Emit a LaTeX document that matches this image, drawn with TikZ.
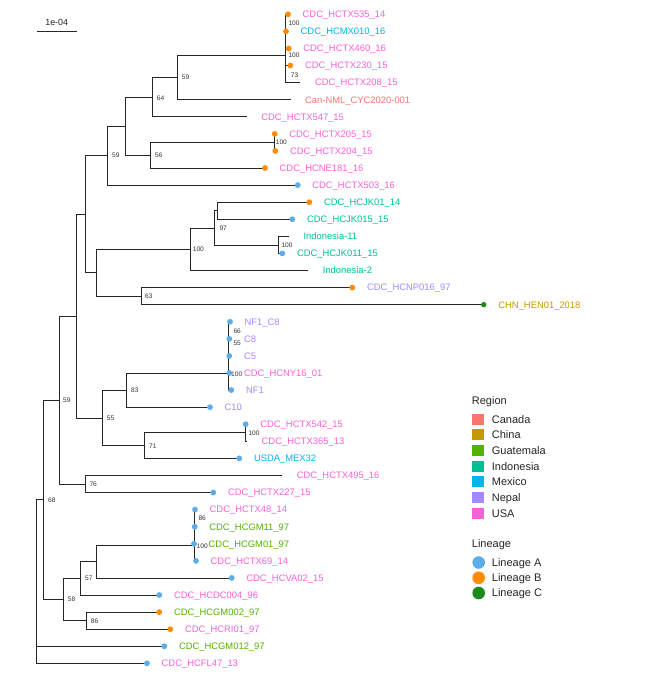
\documentclass[tikz,border=0pt]{standalone}
\usepackage{fontspec}
\setmainfont{Liberation Sans}
\definecolor{cCanada}{HTML}{F8766D}
\definecolor{cChina}{HTML}{C49A00}
\definecolor{cGuatemala}{HTML}{53B400}
\definecolor{cIndonesia}{HTML}{00C094}
\definecolor{cMexico}{HTML}{00B6EB}
\definecolor{cNepal}{HTML}{A58AFF}
\definecolor{cUSA}{HTML}{FB61D7}
\definecolor{linA}{HTML}{5DAEE8}
\definecolor{linB}{HTML}{FF8C00}
\definecolor{linC}{HTML}{1A8A1A}
\begin{document}
\begin{tikzpicture}[x=1pt,y=-1pt,
  edge/.style={draw=black!85, line width=0.6pt},
  tiplab/.style={anchor=west, inner sep=0pt, font=\fontsize{9.4}{10}\selectfont, text height=6.7pt, text depth=0pt},
  boot/.style={anchor=west, inner sep=0pt, font=\fontsize{6.6}{7}\selectfont, text=black!80, text height=4.7pt, text depth=0pt},
  tipdot/.style={circle, inner sep=0pt, minimum size=5.8pt},
  legtext/.style={anchor=west, inner sep=0pt, font=\fontsize{11}{12}\selectfont, text=black!85, text height=7.9pt, text depth=0pt},
  legkey/.style={inner sep=0pt, minimum width=12pt, minimum height=11pt},
  legdot/.style={circle, inner sep=0pt, minimum size=12.6pt}
]
\fill[white] (0,0) rectangle (669,680);
\useasboundingbox (0,0) rectangle (669,680);

% ---------- tips ----------
\foreach \i/\tx/\nm/\rg in {
 0/288/CDC\_HCTX535\_14/USA,
 1/286/CDC\_HCMX010\_16/Mexico,
 2/288.7/CDC\_HCTX460\_16/USA,
 3/290.3/CDC\_HCTX230\_15/USA,
 4/300.3/CDC\_HCTX208\_15/USA,
 5/290.5/Can-NML\_CYC2020-001/Canada,
 6/246.7/CDC\_HCTX547\_15/USA,
 7/274.7/CDC\_HCTX205\_15/USA,
 8/275.3/CDC\_HCTX204\_15/USA,
 9/265/CDC\_HCNE181\_16/USA,
 10/297.7/CDC\_HCTX503\_16/USA,
 11/309.3/CDC\_HCJK01\_14/Indonesia,
 12/292.3/CDC\_HCJK015\_15/Indonesia,
 13/288.8/Indonesia-11/Indonesia,
 14/282.3/CDC\_HCJK011\_15/Indonesia,
 15/308.2/Indonesia-2/Indonesia,
 16/352.3/CDC\_HCNP016\_97/Nepal,
 17/483.7/CHN\_HEN01\_2018/China,
 18/230/NF1\_C8/Nepal,
 19/229.3/C8/Nepal,
 20/229.3/C5/Nepal,
 21/229.3/CDC\_HCNY16\_01/USA,
 22/231.3/NF1/Nepal,
 23/210/C10/Nepal,
 24/245.7/CDC\_HCTX542\_15/USA,
 25/247/CDC\_HCTX365\_13/USA,
 26/239.3/USDA\_MEX32/Mexico,
 27/282.2/CDC\_HCTX495\_16/USA,
 28/213.3/CDC\_HCTX227\_15/USA,
 29/195/CDC\_HCTX48\_14/USA,
 30/194.7/CDC\_HCGM11\_97/Guatemala,
 31/194/CDC\_HCGM01\_97/Guatemala,
 32/196/CDC\_HCTX69\_14/USA,
 33/231.7/CDC\_HCVA02\_15/USA,
 34/159.3/CDC\_HCDC004\_96/USA,
 35/159.3/CDC\_HCGM002\_97/Guatemala,
 36/170.3/CDC\_HCRI01\_97/USA,
 37/164.3/CDC\_HCGM012\_97/Guatemala,
 38/147/CDC\_HCFL47\_13/USA}{
  \coordinate (t\i) at (\tx,{14.3+17.08*\i});
  \node[tiplab, text=c\rg] (l\i) at ([xshift=14.5pt]t\i) {\nm};
}

% ---------- internal nodes ----------
\coordinate (c01) at (285.7,22.84);
\coordinate (c012) at (285.7,35.65);
\coordinate (c34) at (285.7,74.08);
\coordinate (c1) at (285.7,54.87);
\coordinate (n59t) at (177.3,77.29);
\coordinate (n64) at (152.3,97.03);
\coordinate (nE) at (274.3,142.4);
\coordinate (n56) at (150.7,155.21);
\coordinate (nD) at (125.3,126.12);
\coordinate (n59a) at (107.3,155.61);
\coordinate (nF) at (217.7,210.72);
\coordinate (nG) at (278.3,244.88);
\coordinate (n97) at (214.3,227.8);
\coordinate (n100i) at (190.3,249.15);
\coordinate (n63) at (141.3,296.12);
\coordinate (nC) at (96,272.64);
\coordinate (nB) at (85.7,214.1);
\coordinate (nH) at (228.7,372.98);
\coordinate (n83) at (126.7,390.06);
\coordinate (nI) at (245.7,432.76);
\coordinate (n71) at (144.3,445.57);
\coordinate (n55) at (102.7,417.8);
\coordinate (nA) at (76.7,315.95);
\coordinate (n76) at (85.7,484);
\coordinate (n59b) at (59.3,399.98);
\coordinate (nK) at (194,545.2);
\coordinate (nJ) at (96.7,561.57);
\coordinate (n57) at (80.7,578.3);
\coordinate (n86) at (86.7,620.64);
\coordinate (n58) at (63.3,599.5);
\coordinate (n68) at (43.3,499.7);
\coordinate (nR) at (36.3,499.7);

% ---------- edges ----------
\draw[edge] (c01) |- (t0) (c01) |- (t1);
\draw[edge] (c012) |- (c01) (c012) |- (t2);
\draw[edge] (c34) |- (t3) (c34) |- (t4);
\draw[edge] (c1) |- (c012) (c1) |- (c34);
\draw[edge] (n59t) |- (c1) (n59t) |- (t5);
\draw[edge] (n64) |- (n59t) (n64) |- (t6);
\draw[edge] (nE) |- (t7) (nE) |- (t8);
\draw[edge] (n56) |- (nE) (n56) |- (t9);
\draw[edge] (nD) |- (n64) (nD) |- (n56);
\draw[edge] (n59a) |- (nD) (n59a) |- (t10);
\draw[edge] (nF) |- (t11) (nF) |- (t12);
\draw[edge] (nG) |- (t13) (nG) |- (t14);
\draw[edge] (n97) |- (nF) (n97) |- (nG);
\draw[edge] (n100i) |- (n97) (n100i) |- (t15);
\draw[edge] (n63) |- (t16) (n63) |- (t17);
\draw[edge] (nC) |- (n100i) (nC) |- (n63);
\draw[edge] (nB) |- (n59a) (nB) |- (nC);
\draw[edge] (nH) |- (t18) (nH) |- (t19) (nH) |- (t20) (nH) |- (t21) (nH) |- (t22);
\draw[edge] (n83) |- (nH) (n83) |- (t23);
\draw[edge] (nI) |- (t24) (nI) |- (t25);
\draw[edge] (n71) |- (nI) (n71) |- (t26);
\draw[edge] (n55) |- (n83) (n55) |- (n71);
\draw[edge] (nA) |- (nB) (nA) |- (n55);
\draw[edge] (n76) |- (t27) (n76) |- (t28);
\draw[edge] (n59b) |- (nA) (n59b) |- (n76);
\draw[edge] (nK) |- (t29) (nK) |- (t30) (nK) |- (t31) (nK) |- (t32);
\draw[edge] (nJ) |- (nK) (nJ) |- (t33);
\draw[edge] (n57) |- (nJ) (n57) |- (t34);
\draw[edge] (n86) |- (t35) (n86) |- (t36);
\draw[edge] (n58) |- (n57) (n58) |- (n86);
\draw[edge] (n68) |- (n59b) (n68) |- (n58);
\draw[edge] (nR) |- (n68) (nR) |- (t37) (nR) |- (t38);

% ---------- tip points ----------
\foreach \i in {0,1,2,3,7,8,9,11,16,35,36}{\node[tipdot, fill=linB] at (t\i) {};}
\foreach \i in {10,12,14,18,19,20,21,22,23,24,26,28,29,30,31,32,33,34,37,38}{\node[tipdot, fill=linA] at (t\i) {};}
\node[tipdot, fill=linC, minimum size=5.4pt] (d17) at (t17) {};

% ---------- bootstrap labels ----------
\node[boot] (b1) at (288.3,23.3) {100};
\node[boot] (b2) at (288.3,55) {100};
\node[boot] (b3) at (290.7,75) {73};
\node[boot] (b4) at (181.7,77.3) {59};
\node[boot] (b5) at (156.7,97.7) {64};
\node[boot] (b6) at (275.7,142.3) {100};
\node[boot] (b7) at (155,155.3) {56};
\node[boot] (b8) at (112,155.3) {59};
\node[boot] (b9) at (219.3,228.3) {97};
\node[boot] (b10) at (192.7,249.3) {100};
\node[boot] (b11) at (281.3,245.3) {100};
\node[boot] (b12) at (145,296.3) {63};
\node[boot] (b13) at (233.3,330.7) {66};
\node[boot] (b14) at (233.3,343) {55};
\node[boot] (b15) at (231,374) {100};
\node[boot] (b16) at (131,390.3) {83};
\node[boot] (b17) at (106.7,418) {55};
\node[boot] (b18) at (149,445.7) {71};
\node[boot] (b19) at (248.3,432.7) {100};
\node[boot] (b20) at (63,400) {59};
\node[boot] (b21) at (89.3,483.7) {76};
\node[boot] (b22) at (48,500) {68};
\node[boot] (b23) at (198.3,518.3) {86};
\node[boot] (b24) at (196.5,546.3) {100};
\node[boot] (b25) at (85,578.3) {57};
\node[boot] (b26) at (67.7,599.3) {58};
\node[boot] (b27) at (90.7,621) {86};

% ---------- scale bar ----------
\coordinate (sb1) at (36.7,31.7);
\coordinate (sb2) at (77.3,31.7);
\draw[edge] (sb1) -- (sb2);
\node[inner sep=0pt, font=\fontsize{8.9}{9}\selectfont, text=black!85, text height=6.4pt, text depth=0pt] (sbl) at (56.7,22) {1e-04};

% ---------- legend ----------
\node[legtext] (regT) at (471.7,400.7) {Region};
\foreach \j/\rg [count=\k from 0] in {Canada/Canada, China/China, Guatemala/Guatemala, Indonesia/Indonesia, Mexico/Mexico, Nepal/Nepal, USA/USA}{
  \node[legkey, fill=c\rg] (k\k) at (478.3,{419.3+15.67*\k}) {};
  \node[legtext] (kl\k) at (491.7,{419.3+15.67*\k}) {\j};
}
\node[legtext] (linT) at (471.7,544) {Lineage};
\node[legdot, fill=linA] (la) at (478.7,562.5) {};
\node[legdot, fill=linB] (lb) at (478.7,577.8) {};
\node[legdot, fill=linC] (lc) at (478.7,593) {};
\node[legtext] (lal) at (491.7,562.5) {Lineage A};
\node[legtext] (lbl) at (491.7,577.8) {Lineage B};
\node[legtext] (lcl) at (491.7,593) {Lineage C};
\end{tikzpicture}
\end{document}
